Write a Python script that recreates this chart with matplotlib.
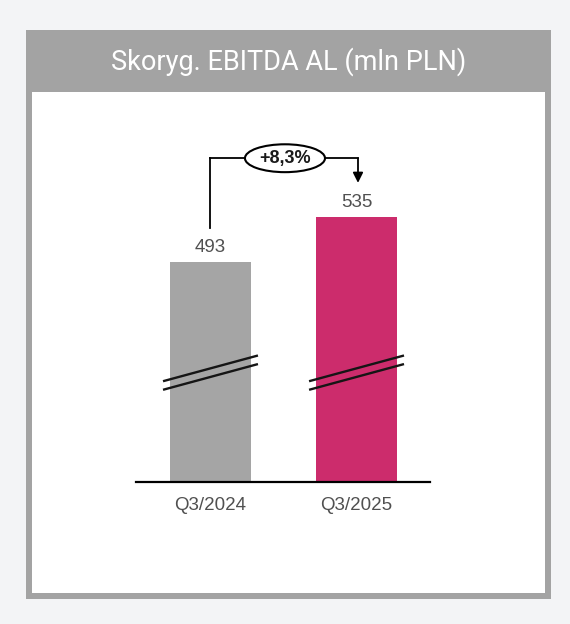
import matplotlib.pyplot as plt
from matplotlib.patches import Rectangle, Ellipse

# data
categories = ['Q3/2024', 'Q3/2025']
values = [493, 535]
bar_colors = ['#a5a5a5', '#cc2c6c']
change_label = '+8,3%'
title = 'Skoryg. EBITDA AL (mln PLN)'

W, H = 570, 624
fig = plt.figure(figsize=(W / 100, H / 100), dpi=100)
fig.patch.set_facecolor('#f3f4f6')


def box(x0, y0, x1, y1, color):
    # pixel coords from top-left
    fig.patches.append(Rectangle((x0 / W, 1 - y1 / H), (x1 - x0) / W, (y1 - y0) / H,
                                 transform=fig.transFigure, facecolor=color,
                                 edgecolor='none', zorder=-5))


# frame + header
box(26, 30, 551, 599, '#a3a3a3')
box(32, 92, 545, 593, 'white')
fig.text(288.5 / W, 1 - 62 / H, title, ha='center', va='center',
         color='white', fontsize=19.5, family='Roboto')

# axes placed so baseline sits at y=482 px
ax = fig.add_axes([136 / W, 1 - 482 / H, 294 / W, 342 / H])
ax.set_zorder(2)
ax.set_facecolor('none')
x = [0, 1]
ax.bar(x, values, width=0.555, color=bar_colors, zorder=2)
ax.set_xlim(-0.51, 1.503)
ax.set_ylim(288, 607)

for s in ['top', 'right', 'left']:
    ax.spines[s].set_visible(False)
ax.spines['bottom'].set_linewidth(1.6)
ax.spines['bottom'].set_color('black')
ax.set_yticks([])
ax.set_xticks(x)
ax.set_xticklabels(categories, fontsize=13.5, color='#505050', family='Liberation Sans')
ax.tick_params(axis='x', length=0, pad=11)

# value labels
for xi, v in zip(x, values):
    ax.text(xi, v + 14, str(v), ha='center', va='center', fontsize=13.5,
            color='#505050', family='Liberation Sans')

# break marks
for xi in x:
    for off in [0, -8]:
        ax.plot([xi - 0.325, xi + 0.325], [382 + off, 406 + off], color='#151515',
                lw=1.7, zorder=3, solid_capstyle='butt')

# change bracket
top = max(values) + 55
ax.plot([0, 0], [values[0] + 32, top], color='black', lw=1.3)
ax.plot([0, 0.24], [top, top], color='black', lw=1.3)
ax.plot([0.78, 1.01], [top, top], color='black', lw=1.3)
ax.annotate('', xy=(1.01, max(values) + 32), xytext=(1.01, top),
            arrowprops=dict(arrowstyle='-|>', color='black', lw=1.3,
                            mutation_scale=15, shrinkA=0, shrinkB=0))
ax.add_patch(Ellipse((0.51, top), 0.548, 26, facecolor='white', edgecolor='black',
                     lw=1.5, zorder=4))
ax.text(0.51, top, change_label, ha='center', va='center', fontsize=13,
        fontweight='bold', color='#1a1a1a', family='Liberation Sans', zorder=5)

fig.savefig('out.png', dpi=100, facecolor=fig.get_facecolor())
